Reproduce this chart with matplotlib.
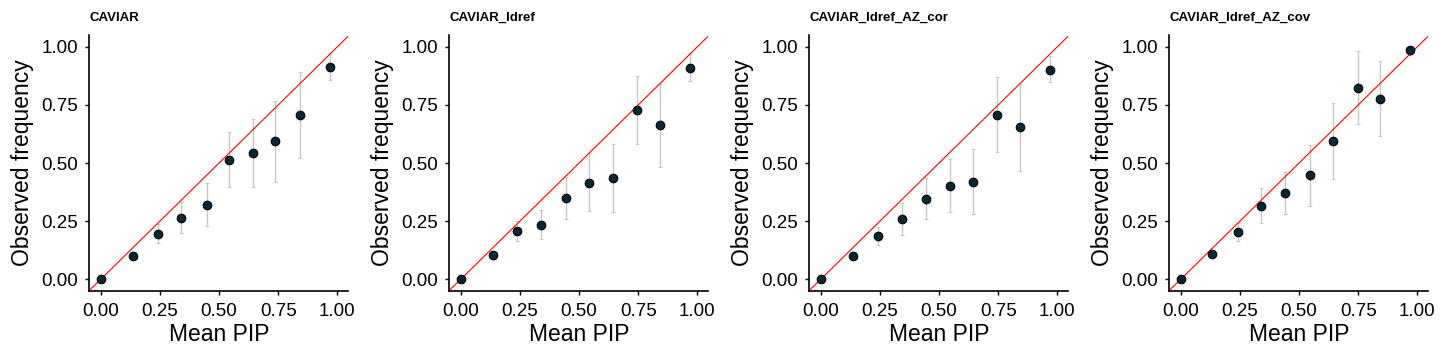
import matplotlib
matplotlib.use("Agg")
import matplotlib.pyplot as plt

plt.rcParams["font.family"] = ["Liberation Sans", "DejaVu Sans"]

titles = ["CAVIAR", "CAVIAR_ldref", "CAVIAR_ldref_AZ_cor", "CAVIAR_ldref_AZ_cov"]

mean_pip = [
    [0.0, 0.135, 0.242, 0.341, 0.449, 0.542, 0.642, 0.738, 0.842, 0.967],
    [0.0, 0.135, 0.239, 0.339, 0.446, 0.543, 0.642, 0.745, 0.843, 0.970],
    [0.0, 0.135, 0.242, 0.342, 0.445, 0.545, 0.642, 0.744, 0.842, 0.967],
    [0.0, 0.134, 0.241, 0.341, 0.442, 0.545, 0.642, 0.748, 0.843, 0.970],
]
obs_freq = [
    [0.0, 0.101, 0.195, 0.265, 0.321, 0.513, 0.541, 0.593, 0.706, 0.912],
    [0.0, 0.103, 0.206, 0.235, 0.349, 0.415, 0.437, 0.728, 0.665, 0.909],
    [0.0, 0.099, 0.185, 0.260, 0.346, 0.401, 0.418, 0.707, 0.653, 0.902],
    [0.0, 0.110, 0.205, 0.315, 0.372, 0.448, 0.593, 0.824, 0.776, 0.987],
]
ci_low = [
    [0.0, 0.092, 0.155, 0.198, 0.229, 0.395, 0.395, 0.418, 0.521, 0.857],
    [0.0, 0.094, 0.166, 0.172, 0.260, 0.294, 0.291, 0.581, 0.484, 0.852],
    [0.0, 0.090, 0.146, 0.192, 0.258, 0.288, 0.279, 0.546, 0.467, 0.847],
    [0.0, 0.100, 0.163, 0.241, 0.279, 0.316, 0.431, 0.666, 0.616, 0.964],
]
ci_high = [
    [0.0, 0.110, 0.238, 0.332, 0.413, 0.632, 0.689, 0.766, 0.892, 0.971],
    [0.0, 0.112, 0.251, 0.298, 0.438, 0.541, 0.581, 0.875, 0.839, 0.971],
    [0.0, 0.108, 0.226, 0.329, 0.435, 0.517, 0.560, 0.871, 0.839, 0.961],
    [0.0, 0.120, 0.241, 0.391, 0.462, 0.577, 0.756, 0.982, 0.937, 1.000],
]

ticks = [0.0, 0.25, 0.5, 0.75, 1.0]
tick_labels = ["0.00", "0.25", "0.50", "0.75", "1.00"]

fig = plt.figure(figsize=(14.4, 3.6), dpi=100)

for i, title in enumerate(titles):
    left = (89.3 + 360 * i) / 1440
    ax = fig.add_axes([left, 0.1925, 259 / 1440, 0.71])

    x = mean_pip[i]
    y = obs_freq[i]
    yerr = [
        [yy - lo for yy, lo in zip(y, ci_low[i])],
        [hi - yy for yy, hi in zip(y, ci_high[i])],
    ]

    ax.axline((0, 0), slope=1, color="red", linewidth=0.8, zorder=2)
    ax.errorbar(x, y, yerr=yerr, fmt="none", ecolor="#c8c8c8",
                elinewidth=1.0, capsize=1.5, capthick=0.8, zorder=1)
    ax.scatter(x, y, s=38, facecolor="#0a2833", edgecolor="black",
               linewidth=0.8, zorder=3)

    ax.set_xlim(-0.048, 1.046)
    ax.set_ylim(-0.049, 1.05)
    ax.set_xticks(ticks)
    ax.set_xticklabels(tick_labels)
    ax.set_yticks(ticks)
    ax.set_yticklabels(tick_labels)
    ax.tick_params(axis="both", labelsize=13.5, length=3, width=1.0,
                   color="black", labelcolor="black")
    ax.tick_params(axis="x", pad=6)
    ax.tick_params(axis="y", pad=5)

    ax.spines["top"].set_visible(False)
    ax.spines["right"].set_visible(False)
    ax.spines["left"].set_linewidth(1.2)
    ax.spines["bottom"].set_linewidth(1.2)

    ax.set_xlabel("Mean PIP", fontsize=16.5, labelpad=2)
    ax.set_ylabel("Observed frequency", fontsize=16.5, labelpad=5)
    ax.set_title(title, loc="left", fontsize=9.5, fontweight="bold", pad=10)

fig.savefig("out.png", dpi=100)
